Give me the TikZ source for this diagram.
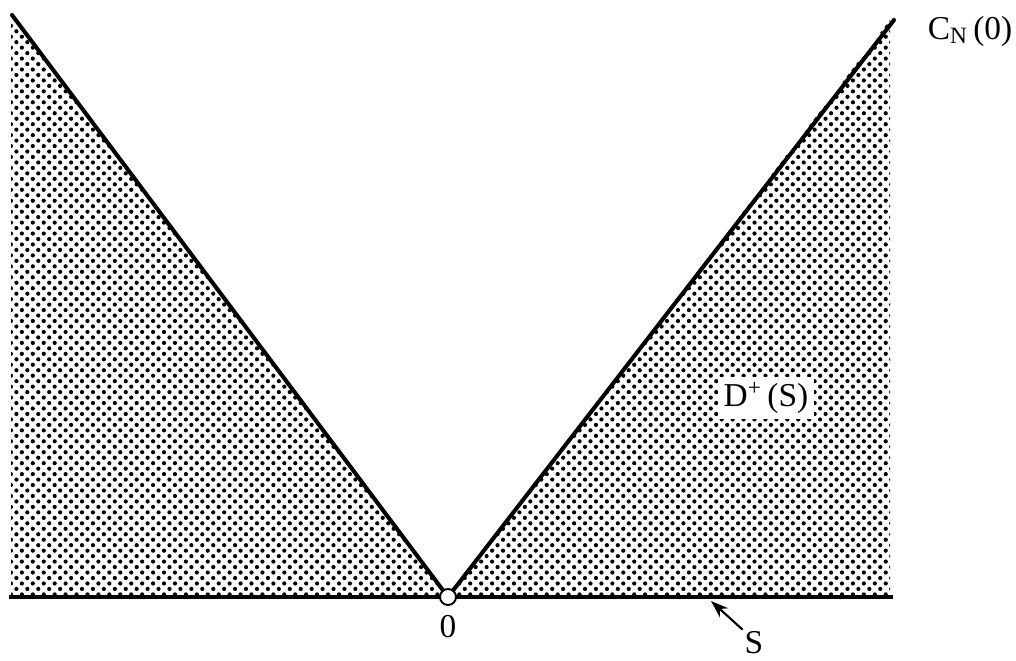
\documentclass[tikz,border=0pt]{standalone}
\usepackage{fontspec}
\setmainfont{Liberation Serif}
\usetikzlibrary{patterns.meta,arrows.meta}

\begin{document}
\begin{tikzpicture}[x=0.2mm, y=0.2mm, font=\fontsize{19}{21}\selectfont,
    dotregion/.style={pattern={Dots[distance=4.4pt, radius=1.2pt, angle=45]}},
    coneline/.style={line width=2.3pt, line cap=round}]
    \useasboundingbox (0,0) rectangle (1016,660);

    % Shaded regions outside the cone
    \fill[dotregion] (11,645) -- (448,63) -- (11,63) -- cycle;
    \fill[dotregion] (890,640) -- (448,63) -- (890,63) -- cycle;

    % Cone and the surface S
    \coordinate (ltop) at (12,645);
    \coordinate (rtop) at (894,640);
    \coordinate (o) at (448,63);
    \coordinate (sleft) at (9,63);
    \coordinate (sright) at (893,63);
    \draw[coneline] (ltop) -- (o) -- (rtop);
    \draw[line width=2.6pt] (sleft) -- (sright);
    \node[circle, draw, line width=1.1pt, fill=white, inner sep=0pt,
          minimum size=3.2mm] (origin) at (o) {};

    % Labels
    \node (zero) at (448,33) {0};
    \node (cone) at (970,629) {C\textsubscript{N}\,(0)};
    \node[fill=white, inner sep=3pt] (dplus) at (766,262) {D\textsuperscript{+}\,(S)};
    \node[inner sep=1pt] (slbl) at (754,17) {S};
    \coordinate (sfoot) at (711,59);
    \draw[-{Stealth[length=10pt,width=7pt]}, line width=1.2pt]
        (slbl.north west) -- (sfoot);
\end{tikzpicture}
\end{document}
